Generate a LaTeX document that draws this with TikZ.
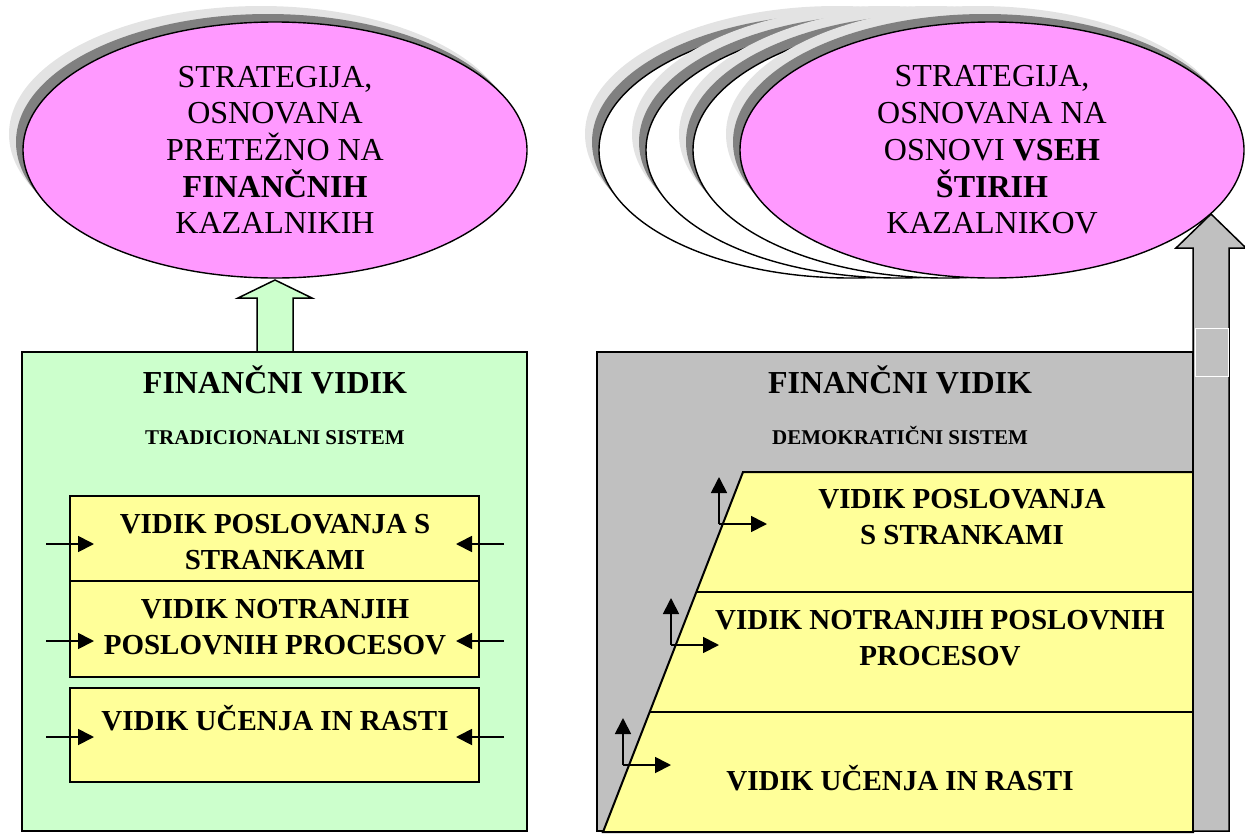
\documentclass[tikz,border=0pt]{standalone}
\usepackage{fontspec}
\setmainfont{Liberation Serif}
\usetikzlibrary{arrows.meta,shapes.geometric}
\definecolor{pinkfill}{HTML}{FF99FF}
\definecolor{greenfill}{HTML}{CCFFCC}
\definecolor{yellowfill}{HTML}{FFFF99}
\definecolor{grayfill}{HTML}{C0C0C0}
\definecolor{shadowdark}{HTML}{808080}
\definecolor{shadowlight}{HTML}{E3E3E3}

\begin{document}
\begin{tikzpicture}[x=1pt,y=-1pt,
  oval/.style={ellipse, draw, line width=1.4pt, minimum width=504pt,
    minimum height=256pt, inner sep=0pt, align=center,
    font=\fontsize{32}{36.7}\selectfont},
  shadowA/.style={fill=shadowlight},
  shadowB/.style={fill=shadowdark},
  frame/.style={draw, line width=2pt},
  yelbox/.style={draw, line width=2pt, fill=yellowfill},
  heading/.style={anchor=base, font=\bfseries\fontsize{32}{36}\selectfont},
  subhead/.style={anchor=base, font=\bfseries\fontsize{21}{24}\selectfont},
  label/.style={align=center, font=\bfseries\fontsize{29}{35.5}\selectfont},
  smallarrow/.style={line width=1.8pt, -{Triangle[length=16pt,width=16pt]}},
  bigarrow/.style={draw, line width=1.5pt, line join=miter}
]
\useasboundingbox (0,0) rectangle (1245,836);

% ---------- left side: traditional system ----------
\path[bigarrow, fill=greenfill]
  (257,352) -- (257,298) -- (238,298) -- (275,280) -- (312,298)
  -- (293,298) -- (293,352) -- cycle;
\path[frame, fill=greenfill] (22,352) rectangle (527,831);

\path[yelbox] (70,496) rectangle (479,592);
\path[yelbox] (70,581) rectangle (479,677);
\path[yelbox] (70,688) rectangle (479,782);

\node[heading] (finL) at (275,393) {FINANČNI VIDIK};
\node[subhead] (tradL) at (275,444) {TRADICIONALNI SISTEM};
\node[label] (custL) at (275,542) {VIDIK POSLOVANJA S\\STRANKAMI};
\node[label] (procL) at (275,627) {VIDIK NOTRANJIH\\POSLOVNIH PROCESOV};
\node[label] (learnL) at (275,718) {VIDIK UČENJA IN RASTI};

\foreach \k/\yy in {1/544, 2/641, 3/737} {
  \coordinate (inL\k) at (46,\yy);
  \coordinate (tipL\k) at (94,\yy);
  \coordinate (inR\k) at (504,\yy);
  \coordinate (tipR\k) at (456,\yy);
  \draw[smallarrow] (inL\k) -- (tipL\k);
  \draw[smallarrow] (inR\k) -- (tipR\k);
}

% ---------- right side: democratic system ----------
\path[frame, fill=grayfill] (597,352) rectangle (1193,831);
\path[draw, line width=2pt, fill=yellowfill, line join=miter]
  (743,472) -- (1193,472) -- (1193,832) -- (603,832) -- cycle;
\coordinate (d1a) at (697,592); \coordinate (d1b) at (1193,592);
\coordinate (d2a) at (649,712); \coordinate (d2b) at (1193,712);
\draw[line width=2pt] (d1a) -- (d1b);
\draw[line width=2pt] (d2a) -- (d2b);

\path[bigarrow, fill=grayfill]
  (1193,831) -- (1193,248) -- (1176,248) -- (1211,214) -- (1246,248)
  -- (1229,248) -- (1229,831) -- cycle;
\path[fill=grayfill, draw=white, line width=1pt] (1195,328) rectangle (1228,376);

\node[heading] (finR) at (900,393) {FINANČNI VIDIK};
\node[subhead] (demR) at (900,444) {DEMOKRATIČNI SISTEM};
\node[label] (custR) at (962,517) {VIDIK POSLOVANJA\\S STRANKAMI};
\node[label] (procR) at (940,638) {VIDIK NOTRANJIH POSLOVNIH\\PROCESOV};
\node[label] (learnR) at (900,778) {VIDIK UČENJA IN RASTI};

\foreach \k/\cx/\cy in {1/719/524, 2/671/645, 3/623/765} {
  \coordinate (c\k) at (\cx,\cy);
  \coordinate (up\k) at (\cx,\cy-47);
  \coordinate (rt\k) at (\cx+48,\cy);
  \draw[smallarrow] (c\k) -- (up\k);
  \draw[smallarrow] (c\k) -- (rt\k);
}

% ---------- strategy ovals ----------
\fill[shadowA] (261,134) ellipse [x radius=252pt, y radius=128pt];
\fill[shadowB] (268,142) ellipse [x radius=252pt, y radius=128pt];
\node[oval, fill=pinkfill] (stratL) at (275,150)
  {STRATEGIJA,\\OSNOVANA\\PRETEŽNO NA\\\textbf{FINANČNIH}\\KAZALNIKIH};

\foreach \cx in {851, 898, 945} {
  \fill[shadowA] (\cx-14,134) ellipse [x radius=252pt, y radius=128pt];
  \fill[shadowB] (\cx-7,142) ellipse [x radius=252pt, y radius=128pt];
  \node[oval, fill=white] (back\cx) at (\cx,150) {};
}
\fill[shadowA] (978,134) ellipse [x radius=252pt, y radius=128pt];
\fill[shadowB] (985,142) ellipse [x radius=252pt, y radius=128pt];
\node[oval, fill=pinkfill] (stratR) at (992,150)
  {STRATEGIJA,\\OSNOVANA NA\\OSNOVI \textbf{VSEH}\\\textbf{ŠTIRIH}\\KAZALNIKOV};
\end{tikzpicture}
\end{document}
